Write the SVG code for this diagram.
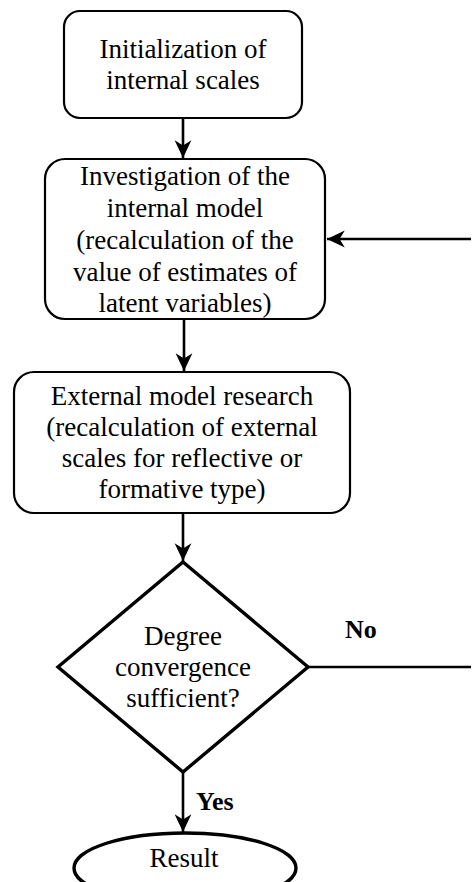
<svg xmlns="http://www.w3.org/2000/svg" width="472" height="882" viewBox="0 0 472 882">
<defs>
<style>
.box{fill:#fff;stroke:#000;stroke-width:2.2}
.thick{fill:#fff;stroke:#000;stroke-width:3.4}
.t{font-family:"Liberation Serif","Times New Roman","DejaVu Serif",serif;font-size:27px;fill:#000;text-anchor:middle}
.b{font-family:"Liberation Serif","Times New Roman","DejaVu Serif",serif;font-size:26px;font-weight:bold;fill:#000}
.c{fill:none;stroke:#000;stroke-width:2.6}
</style>
<marker id="ah" markerUnits="userSpaceOnUse" markerWidth="22" markerHeight="22" viewBox="-19 -10 21 20" refX="0" refY="0" orient="auto">
<path d="M0,0 L-17,-8 L-12,0 L-17,8 Z" fill="#000"/>
</marker>
</defs>
<g id="connectors">
<line class="c" x1="183" y1="118" x2="183" y2="158" marker-end="url(#ah)"/>
<line class="c" x1="184" y1="319" x2="184" y2="371" marker-end="url(#ah)"/>
<line class="c" x1="183" y1="513" x2="183" y2="561" marker-end="url(#ah)"/>
<line class="c" x1="183" y1="772" x2="183" y2="832" marker-end="url(#ah)"/>
<line class="c" x1="308" y1="667" x2="471" y2="667"/>
<line class="c" x1="471" y1="239" x2="327" y2="239" marker-end="url(#ah)"/>
</g>
<g id="n1">
<rect class="box" x="64" y="11" width="238" height="107" rx="16"/>
<text class="t" x="183" y="58">Initialization of</text>
<text class="t" x="183" y="89">internal scales</text>
</g>
<g id="n2">
<rect class="box" x="45" y="159" width="280" height="160" rx="20"/>
<text class="t" x="185" y="185">Investigation of the</text>
<text class="t" x="185" y="217">internal model</text>
<text class="t" x="185" y="249">(recalculation of the</text>
<text class="t" x="185" y="281">value of estimates of</text>
<text class="t" x="185" y="312">latent variables)</text>
</g>
<g id="n3">
<rect class="box" x="14" y="372" width="336" height="141" rx="20"/>
<text class="t" x="182" y="405">External model research</text>
<text class="t" x="182" y="436">(recalculation of external</text>
<text class="t" x="182" y="467">scales for reflective or</text>
<text class="t" x="182" y="498">formative type)</text>
</g>
<g id="n4">
<polygon class="thick" points="183,562 308,667 183,772 58,667"/>
<text class="t" x="183" y="645">Degree</text>
<text class="t" x="183" y="676">convergence</text>
<text class="t" x="183" y="707">sufficient?</text>
</g>
<g id="n5">
<ellipse class="thick" cx="185" cy="868" rx="111" ry="35"/>
<text class="t" x="184" y="867">Result</text>
</g>
<text class="b" x="345" y="638">No</text>
<text class="b" x="196" y="810">Yes</text>
</svg>
